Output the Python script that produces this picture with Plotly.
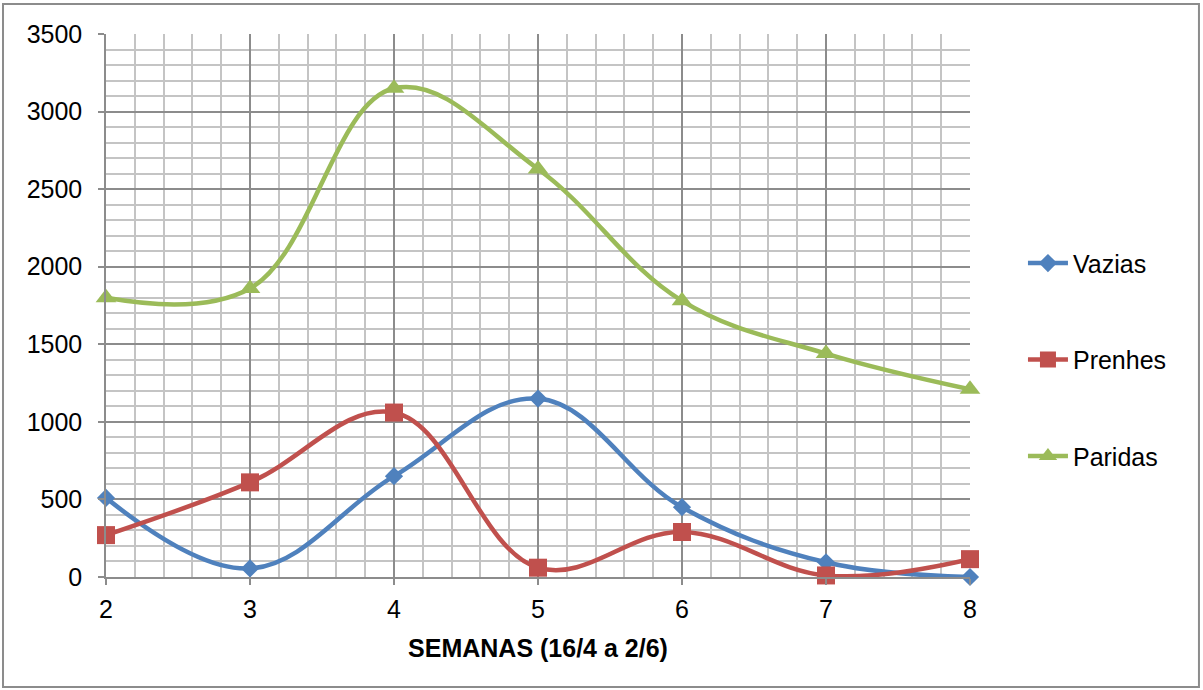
import plotly.graph_objects as go

semanas = [2, 3, 4, 5, 6, 7, 8]
vazias = [510, 55, 650, 1150, 450, 95, 0]
prenhes = [270, 610, 1060, 60, 290, 10, 115]
paridas = [1800, 1860, 3150, 2630, 1780, 1440, 1210]

series = [
    ("Vazias", vazias, "#4F81BD", "diamond", 14),
    ("Prenhes", prenhes, "#C0504D", "square", 18),
    ("Paridas", paridas, "#9BBB59", "triangle-up", 18),
]

fig = go.Figure()
for i, (name, vals, color, sym, size) in enumerate(series):
    fig.add_trace(go.Scatter(
        x=semanas, y=vals, name=name, mode="lines+markers",
        line=dict(color=color, width=4.5, shape="spline", smoothing=1.1),
        marker=dict(symbol=sym, size=size, color=color),
        legendgroup=f"g{i}", cliponaxis=False,
    ))

font_family = "Liberation Sans, Arial, sans-serif"
fig.update_layout(
    width=1203, height=690,
    margin=dict(l=106, r=233, t=34, b=113),
    paper_bgcolor="white", plot_bgcolor="white",
    font=dict(family=font_family, size=25, color="black"),
    showlegend=True,
    legend=dict(
        x=1.0613, xanchor="left", y=0.40, yanchor="middle",
        tracegroupgap=61, font=dict(size=25, color="black"),
        bgcolor="rgba(0,0,0,0)", itemwidth=40,
    ),
    xaxis=dict(
        range=[2, 8], tickmode="linear", tick0=2, dtick=1,
        showgrid=True, gridcolor="#8C8C8C", gridwidth=1.5,
        minor=dict(dtick=0.2, showgrid=True, gridcolor="#C4C4C4", gridwidth=1.5),
        showline=True, linecolor="#8C8C8C", linewidth=1.5,
        ticks="outside", ticklen=6, tickcolor="#8C8C8C", tickwidth=1.5,
        tickfont=dict(size=25), zeroline=False, ticklabelstandoff=3,
        title=dict(text="<b>SEMANAS (16/4 a 2/6)</b>", font=dict(size=25), standoff=18),
    ),
    yaxis=dict(
        range=[0, 3500], tickmode="linear", tick0=0, dtick=500,
        showgrid=True, gridcolor="#8C8C8C", gridwidth=1.5,
        minor=dict(dtick=100, showgrid=True, gridcolor="#C4C4C4", gridwidth=1.5),
        showline=True, linecolor="#8C8C8C", linewidth=1.5,
        ticks="outside", ticklen=6, tickcolor="#8C8C8C", tickwidth=1.5,
        tickfont=dict(size=25), zeroline=False, ticklabelstandoff=11,
    ),
    shapes=[dict(
        type="rect", xref="paper", yref="paper",
        x0=-0.1192, x1=1.2650, y0=-0.2026, y1=1.0552,
        line=dict(color="#8C8C8C", width=2), fillcolor="rgba(0,0,0,0)",
        layer="below",
    )],
)

fig.write_html("out.html")
